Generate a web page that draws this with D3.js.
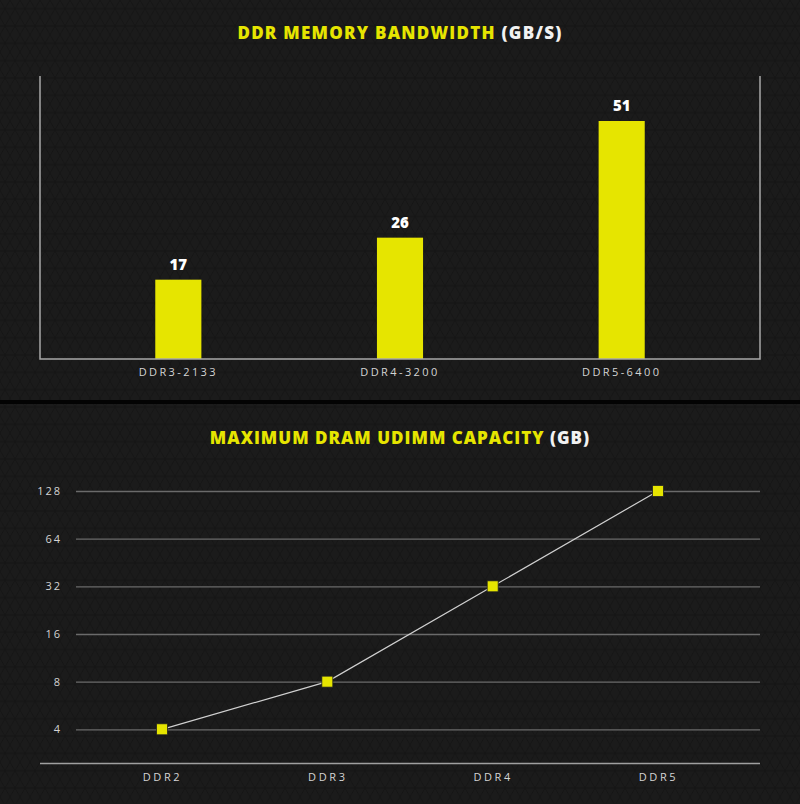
<!DOCTYPE html>
<html><head><meta charset="utf-8">
<script src="https://cdn.jsdelivr.net/npm/d3@7"></script>
<style>
html,body{margin:0;padding:0;background:#000;}
svg{display:block;}
</style></head>
<body>
<svg id="c" width="800" height="804"></svg>
<script>
// ---- data ----
const bwCategories = ["DDR3-2133", "DDR4-3200", "DDR5-6400"];
const bwValues = [17, 26, 51];
const capCategories = ["DDR2", "DDR3", "DDR4", "DDR5"];
const capValues = [4, 8, 32, 128];
const capTicks = [4, 8, 16, 32, 64, 128];

const YELLOW = "#e6e500";
const svg = d3.select("#c");
const defs = svg.append("defs");
const pat = defs.append("pattern").attr("id", "tex").attr("patternUnits", "userSpaceOnUse")
  .attr("width", 10).attr("height", 17.32);
pat.append("rect").attr("width", 10).attr("height", 17.32).attr("fill", "#1b1b1b");
pat.append("path").attr("d", "M0,0 L5,8.66 L10,0 M0,17.32 L5,8.66 L10,17.32 M0,8.66 L10,8.66")
  .attr("stroke", "#141414").attr("stroke-width", 0.8).attr("fill", "none");

// panels
svg.append("rect").attr("x", 0).attr("y", 0).attr("width", 800).attr("height", 400).attr("fill", "url(#tex)");
svg.append("rect").attr("x", 0).attr("y", 400).attr("width", 800).attr("height", 4).attr("fill", "#030303");
svg.append("rect").attr("x", 0).attr("y", 404).attr("width", 800).attr("height", 400).attr("fill", "url(#tex)");

const font = "'Open Sans', sans-serif";

function title(y, main, unit, ls) {
  const t = svg.append("text").attr("x", 400).attr("y", y).attr("text-anchor", "middle")
    .attr("font-family", font).attr("font-weight", 800).attr("font-size", 17).attr("letter-spacing", ls);
  t.append("tspan").attr("fill", YELLOW).text(main + " ");
  t.append("tspan").attr("fill", "#f2f2f2").text(unit);
}
title(39, "DDR MEMORY BANDWIDTH", "(GB/S)", 1.25);
title(444, "MAXIMUM DRAM UDIMM CAPACITY", "(GB)", 1.0);

// ---- top bar chart ----
const p1 = {l: 40, r: 760, t: 76, b: 359};
const x1 = d3.scaleBand().domain(bwCategories).range([p1.l, p1.r]).paddingInner(0.792).paddingOuter(0.52);
const y1 = d3.scaleLinear().domain([0, 51 * 283 / 238]).range([p1.b, p1.t]);

const g1 = svg.append("g");
g1.selectAll("rect.bar").data(bwValues).join("rect").attr("class", "bar")
  .attr("x", (d, i) => x1(bwCategories[i])).attr("width", x1.bandwidth())
  .attr("y", d => y1(d)).attr("height", d => y1(0) - y1(d)).attr("fill", YELLOW);
g1.selectAll("text.val").data(bwValues).join("text").attr("class", "val")
  .attr("x", (d, i) => x1(bwCategories[i]) + x1.bandwidth() / 2).attr("y", d => y1(d) - 10)
  .attr("text-anchor", "middle").attr("fill", "#fff").attr("font-family", font)
  .attr("font-weight", 800).attr("font-size", 15).text(d => d);

// frame
g1.append("path").attr("d", `M${p1.l},${p1.t}V${p1.b}H${p1.r}V${p1.t}`)
  .attr("fill", "none").attr("stroke", "#a8a8a8").attr("stroke-width", 1.5);

const ax1 = g1.append("g").attr("transform", `translate(0,${p1.b})`)
  .call(d3.axisBottom(x1).tickSize(0).tickPadding(9));
ax1.select(".domain").remove();
ax1.selectAll("text").attr("fill", "#d4d4d4").attr("font-family", font).attr("font-size", 11)
  .attr("letter-spacing", 2.4);

// ---- bottom line chart ----
const p2 = {l: 76, r: 760};
const x2 = d3.scalePoint().domain(capCategories).range([162, 658]);
const y2 = d3.scaleLog().base(2).domain([4, 128]).range([729.3, 491]);
const baseY = 763.5;

const g2 = svg.append("g");
const ay = g2.append("g").attr("transform", `translate(${p2.l},0)`)
  .call(d3.axisLeft(y2).tickValues(capTicks).tickFormat(d3.format("d")).tickSize(-(p2.r - p2.l)).tickPadding(14));
ay.select(".domain").remove();
ay.selectAll(".tick line").attr("stroke", "#6a6a6a").attr("stroke-width", 1.3);
ay.selectAll(".tick text").attr("fill", "#d4d4d4").attr("font-family", font).attr("font-size", 11)
  .attr("letter-spacing", 2);

g2.append("line").attr("x1", 40).attr("x2", p2.r).attr("y1", baseY).attr("y2", baseY)
  .attr("stroke", "#a0a0a0").attr("stroke-width", 1.5);

const ax2 = g2.append("g").attr("transform", `translate(0,${baseY})`)
  .call(d3.axisBottom(x2).tickSize(0).tickPadding(10));
ax2.select(".domain").remove();
ax2.selectAll("text").attr("fill", "#d4d4d4").attr("font-family", font).attr("font-size", 11)
  .attr("letter-spacing", 2.6);

const line = d3.line().x((d, i) => x2(capCategories[i])).y(d => y2(d));
g2.append("path").datum(capValues).attr("d", line).attr("fill", "none")
  .attr("stroke", "#d0d0d0").attr("stroke-width", 1.2);
const s = 11;
g2.selectAll("rect.pt").data(capValues).join("rect").attr("class", "pt")
  .attr("x", (d, i) => x2(capCategories[i]) - s / 2).attr("y", d => y2(d) - s / 2)
  .attr("width", s).attr("height", s).attr("fill", YELLOW).attr("stroke", "#222").attr("stroke-width", 0.8);
</script>
</body></html>
